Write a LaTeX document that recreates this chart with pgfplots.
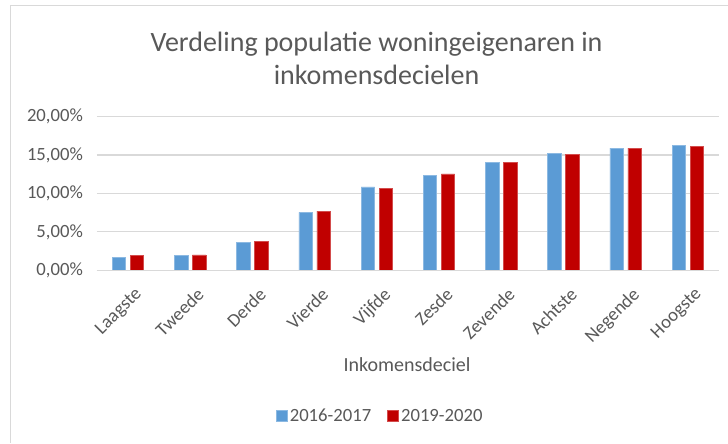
\documentclass[border=0pt]{standalone}
\usepackage{pgfplots}
\pgfplotsset{compat=1.18}
\usepackage{fontspec}
\setmainfont{Carlito}
\definecolor{txt}{RGB}{89,89,89}
\definecolor{gridc}{RGB}{217,217,217}
\definecolor{bblue}{RGB}{91,155,213}
\definecolor{bred}{RGB}{192,0,0}
\begin{document}
\begin{tikzpicture}
\path[use as bounding box, fill=white] (0,0) rectangle (546pt,332.25pt);
\draw[gridc, line width=0.75pt] (7.5pt,0) -- (7.5pt,327.75pt) -- (546pt,327.75pt);
\node[text=txt, font=\fontsize{21}{25}\selectfont, align=center] at (282.4pt,288.4pt)
  {Verdeling populatie woningeigenaren in\\inkomensdecielen};
\begin{axis}[
  at={(72.68pt,129.53pt)}, anchor=south west,
  scale only axis, width=466.5pt, height=115.2pt,
  xmin=-0.5, xmax=9.5, ymin=0, ymax=20,
  ybar, bar width=10.1pt,
  xtick={0,...,9},
  xticklabels={Laagste,Tweede,Derde,Vierde,Vijfde,Zesde,Zevende,Achtste,Negende,Hoogste},
  ytick={0,5,10,15,20},
  yticklabels={{0,00\%},{5,00\%},{10,00\%},{15,00\%},{20,00\%}},
  major tick length=0pt,
  axis line style={draw=none},
  ymajorgrids, grid style={gridc, line width=0.9pt},
  tick label style={font=\fontsize{14}{16}\selectfont, text=txt},
  yticklabel style={anchor=east, xshift=-7pt},
  xticklabel style={rotate=45, anchor=north east, xshift=-2pt, yshift=-8pt},
  xlabel={Inkomensdeciel},
  xlabel style={font=\fontsize{15}{17}\selectfont, text=txt, at={(axis description cs:0.4985,-0.617)}, anchor=center},
  legend style={at={(axis description cs:0.456,-0.949)}, anchor=center, draw=none,
    legend columns=2, font=\fontsize{14}{16}\selectfont, text=txt,
    /tikz/every even column/.append style={column sep=10pt}},
  legend image code/.code={\fill[#1] (0pt,-4pt) rectangle (8pt,4pt);},
  clip=false,
]
\addplot[fill=bblue, draw=bblue!70!white, bar shift=-6.75pt] coordinates {
(0,1.73) (1,1.90) (2,3.65) (3,7.55) (4,10.85) (5,12.36) (6,14.06) (7,15.18) (8,15.92) (9,16.31)};
\addplot[fill=bred, draw=bred!70!white, bar shift=6.75pt] coordinates {
(0,1.90) (1,2.00) (2,3.78) (3,7.72) (4,10.70) (5,12.54) (6,14.06) (7,15.05) (8,15.92) (9,16.18)};
\draw[gridc, line width=0.9pt] (axis cs:-0.5,0) -- (axis cs:9.5,0);
\legend{2016-2017,2019-2020}
\end{axis}
\end{tikzpicture}
\end{document}
